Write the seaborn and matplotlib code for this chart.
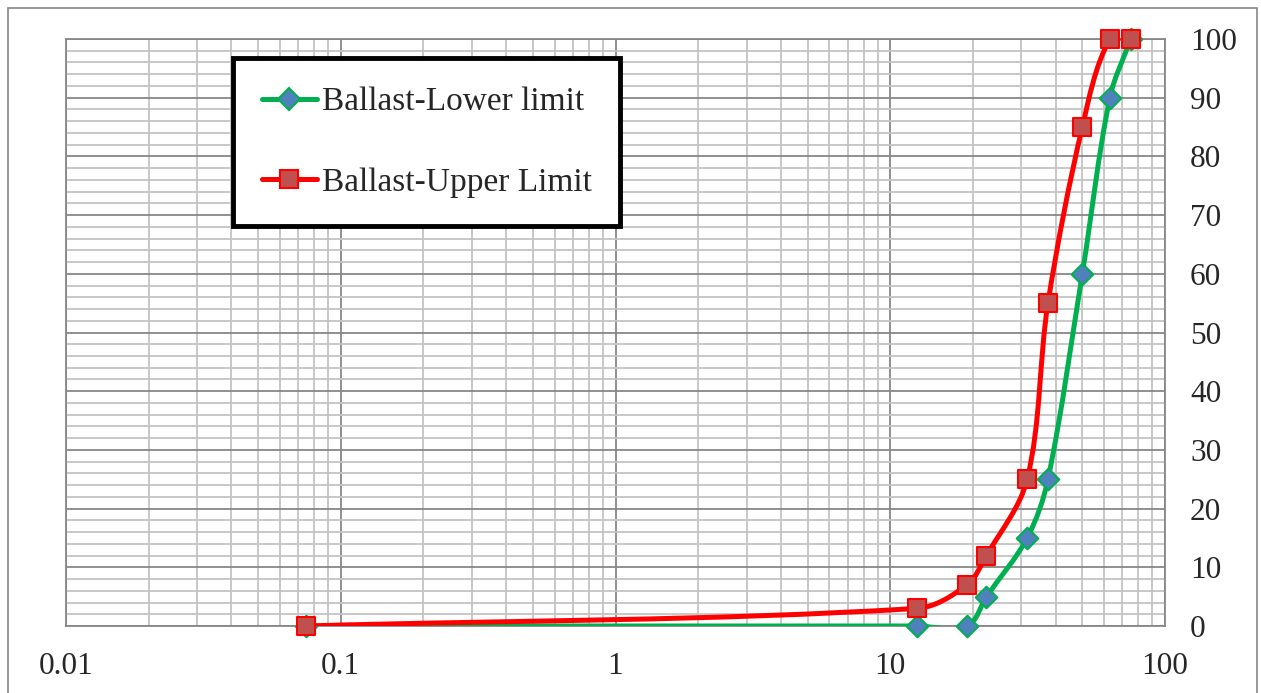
import numpy as np
import pandas as pd
import matplotlib.pyplot as plt
import seaborn as sns
from matplotlib.path import Path
from matplotlib.patches import PathPatch, Rectangle
from matplotlib.lines import Line2D
from matplotlib.ticker import LogLocator, MultipleLocator, FixedLocator, FixedFormatter, NullFormatter

# sieve sizes (mm) and percent passing
sieve_size = [0.075, 12.5, 19, 22.4, 31.5, 37.5, 50, 63, 75]
lower_limit = [0, 0, 0, 5, 15, 25, 60, 90, 100]
upper_limit = [0, 3, 7, 12, 25, 55, 85, 100, 100]

x_ticks = [0.01, 0.1, 1, 10, 100]
x_ticklabels = ['0.01', '0.1', '1', '10', '100']
y_ticks = list(range(0, 101, 10))

sns.set_style('white')
plt.rcParams['font.family'] = ['Liberation Serif', 'DejaVu Serif']

fig = plt.figure(figsize=(12.61, 6.93), dpi=100)
ax = fig.add_axes([66 / 1261, 1 - 626 / 693, (1165 - 66) / 1261, (626 - 39) / 693])
ax.set_xscale('log')
ax.set_xlim(0.01, 100)
ax.set_ylim(0, 100)

# grid
major_c, minor_c = '#878787', '#c4c4c4'
ax.xaxis.set_major_locator(FixedLocator(x_ticks))
ax.xaxis.set_major_formatter(FixedFormatter(x_ticklabels))
ax.xaxis.set_minor_locator(LogLocator(base=10, subs=np.arange(2, 10)))
ax.xaxis.set_minor_formatter(NullFormatter())
ax.yaxis.set_major_locator(FixedLocator(y_ticks))
ax.yaxis.set_minor_locator(MultipleLocator(2))
ax.grid(which='minor', color=minor_c, lw=1.3, zorder=0)
ax.grid(which='major', color=major_c, lw=1.3, zorder=0)
ax.set_axisbelow(True)
for s in ax.spines.values():
    s.set_color(major_c)
    s.set_linewidth(1.3)

ax.yaxis.tick_right()
ax.tick_params(axis='y', which='both', length=0, pad=18, labelsize=22.5)
ax.tick_params(axis='x', which='major', length=7, width=1.3, color=major_c, pad=12, labelsize=22.5, direction='out')
ax.tick_params(axis='x', which='minor', length=0)


def smooth_path(xs, ys):
    # excel-like smoothed line, built in screen-proportional space
    w, h = 1099.0, 587.0
    px = (np.log10(xs) + 2) / 4 * w
    py = np.asarray(ys, float) / 100 * h
    pts = np.column_stack([px, py])
    n = len(pts)
    tang = []
    for i in range(n):
        d = pts[min(i + 1, n - 1)] - pts[max(i - 1, 0)]
        nd = np.hypot(*d)
        tang.append(d / nd if nd > 0 else d)
    verts = [pts[0]]
    codes = [Path.MOVETO]
    for i in range(n - 1):
        seg = np.hypot(*(pts[i + 1] - pts[i]))
        c1 = pts[i] + tang[i] * seg / 3
        c2 = pts[i + 1] - tang[i + 1] * seg / 3
        verts += [c1, c2, pts[i + 1]]
        codes += [Path.CURVE4] * 3
    verts = np.array(verts)
    verts[:, 0] = 10 ** (verts[:, 0] / w * 4 - 2)
    verts[:, 1] = verts[:, 1] / h * 100
    return Path(verts, codes)


series = [
    ('Ballast-Lower limit', lower_limit, '#00b050', 'D', '#4f81bd', 11),
    ('Ballast-Upper Limit', upper_limit, '#ff0000', 's', '#c0504d', 13.5),
]

handles = []
for k, (name, vals, lc, mk, fc, ms) in enumerate(series):
    ax.add_patch(PathPatch(smooth_path(sieve_size, vals), fill=False, edgecolor=lc,
                           lw=3.6, capstyle='round', joinstyle='round', zorder=3 + 2 * k))
    df = pd.DataFrame({'size': sieve_size, 'passing': vals})
    sns.scatterplot(data=df, x='size', y='passing', marker=mk, s=ms ** 2, color=fc,
                    edgecolor=lc, linewidth=1.5, zorder=4 + 2 * k, ax=ax, clip_on=False)
    handles.append(Line2D([], [], color=lc, lw=3.6, marker=mk, markersize=ms,
                          markerfacecolor=fc, markeredgecolor=lc, markeredgewidth=1.5,
                          solid_capstyle='round'))

ax.set_xlabel('')
ax.set_ylabel('')

leg = ax.legend(handles, [s[0] for s in series], loc='upper left',
                bbox_to_anchor=(0.152, 0.9676), fontsize=24, frameon=True,
                fancybox=False, framealpha=1, edgecolor='black', borderpad=0.86,
                labelspacing=1.5, handlelength=1.65, handletextpad=0.15, borderaxespad=0)
leg.get_frame().set_linewidth(3.5)
leg.set_zorder(10)

# outer chart border
fig.patches.append(Rectangle((8 / 1261, -0.05), (1257 - 8) / 1261, 1.05 - 8 / 693,
                             transform=fig.transFigure, fill=False, edgecolor='#868686', lw=1.2))

fig.savefig('out.png', dpi=100)
